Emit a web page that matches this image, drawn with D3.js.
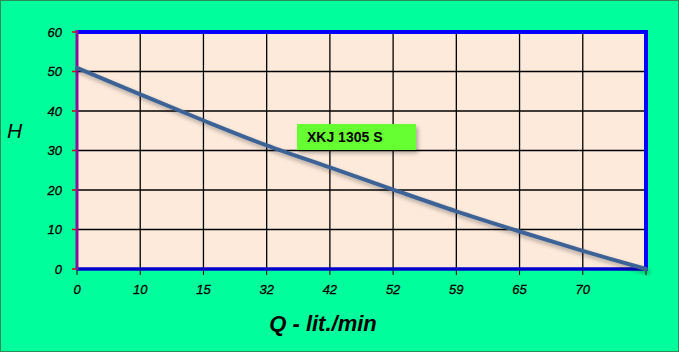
<!DOCTYPE html>
<html><head><meta charset="utf-8">
<script src="https://cdn.jsdelivr.net/npm/d3@7"></script>
<style>html,body{margin:0;padding:0;background:#fff;}svg{display:block;}</style>
</head><body>
<script>
const categories = ["0","10","15","32","42","52","59","65","70",""];
const headValues = [50.9, 44.2, 37.6, 31.3, 25.7, 20.1, 14.6, 9.5, 4.6, 0];
const yTicks = [0,10,20,30,40,50,60];
const seriesName = "XKJ 1305 S";

const W = 679, H = 352;
const svg = d3.select("body").append("svg").attr("width", W).attr("height", H);
const defs = svg.append("defs");
const f = defs.append("filter").attr("id","sh").attr("x","-10%").attr("y","-10%").attr("width","130%").attr("height","150%");
f.append("feDropShadow").attr("dx",2).attr("dy",3).attr("stdDeviation",2).attr("flood-color","#000").attr("flood-opacity",0.3);

svg.append("rect").attr("x",0.5).attr("y",0.5).attr("width",W-1).attr("height",H-1)
  .attr("fill","#00FF9C").attr("stroke","#2E8B57").attr("stroke-width",1);

const L = 77, R = 646, T = 32, B = 269;
const x = d3.scalePoint().domain(d3.range(categories.length)).range([L, R]);
const y = d3.scaleLinear().domain([0,60]).range([B, T]);

svg.append("rect").attr("x",L).attr("y",T).attr("width",R-L).attr("height",B-T).attr("fill","#FDEADB");

// grid
const g = svg.append("g");
g.selectAll(".hg").data(yTicks.filter(d=>d>0 && d<60)).join("line")
  .attr("x1",L).attr("x2",R).attr("y1",d=>y(d)).attr("y2",d=>y(d)).attr("stroke","#000").attr("stroke-width",1.3);
g.selectAll(".vg").data(d3.range(1,categories.length-1)).join("line")
  .attr("x1",d=>x(d)).attr("x2",d=>x(d)).attr("y1",T).attr("y2",B).attr("stroke","#000").attr("stroke-width",1.3);

// x ticks
svg.append("g").selectAll("line").data(d3.range(categories.length)).join("line")
  .attr("x1",d=>x(d)).attr("x2",d=>x(d)).attr("y1",B).attr("y2",B+6).attr("stroke","#000").attr("stroke-width",1);
// y ticks red
svg.append("g").selectAll("line").data(yTicks).join("line")
  .attr("x1",L-5).attr("x2",L).attr("y1",d=>y(d)).attr("y2",d=>y(d)).attr("stroke","#E00000").attr("stroke-width",1.5);

// borders
svg.append("line").attr("x1",L).attr("x2",R+2).attr("y1",T).attr("y2",T).attr("stroke","#0000FF").attr("stroke-width",4);
svg.append("line").attr("x1",R).attr("x2",R).attr("y1",T-2).attr("y2",B).attr("stroke","#0000FF").attr("stroke-width",4);
svg.append("line").attr("x1",L).attr("x2",R+2).attr("y1",B).attr("y2",B).attr("stroke","#0000CC").attr("stroke-width",3.5);
svg.append("line").attr("x1",L).attr("x2",L).attr("y1",T-2).attr("y2",B+1).attr("stroke","#8B109B").attr("stroke-width",3);

// line
const line = d3.line().x((d,i)=>x(i)).y(d=>y(d)).curve(d3.curveCatmullRom.alpha(0.5));
svg.append("path").datum(headValues).attr("d",line).attr("fill","none")
  .attr("stroke","#3D6496").attr("stroke-width",4).attr("stroke-linecap","round").attr("filter","url(#sh)");

// labels
svg.append("g").selectAll("text").data(yTicks).join("text")
  .attr("x",62).attr("y",d=>y(d)+4.5).attr("text-anchor","end")
  .attr("font-family","Liberation Sans, Arial, sans-serif").attr("font-size",13).attr("font-style","italic")
  .attr("stroke","#000").attr("stroke-width",0.3)
  .attr("fill","#000").text(d=>d);
svg.append("g").selectAll("text").data(categories).join("text")
  .attr("x",(d,i)=>x(i)).attr("y",294).attr("text-anchor","middle")
  .attr("font-family","Liberation Sans, Arial, sans-serif").attr("font-size",13).attr("font-style","italic")
  .attr("stroke","#000").attr("stroke-width",0.3)
  .attr("fill","#000").text(d=>d);

svg.append("text").attr("x",7).attr("y",138).attr("font-family","Liberation Sans, Arial, sans-serif")
  .attr("font-size",21).attr("font-style","italic").attr("fill","#000").text("H");
svg.append("text").attr("x",323).attr("y",331).attr("text-anchor","middle").attr("font-family","Liberation Sans, Arial, sans-serif")
  .attr("font-size",22).attr("font-style","italic").attr("font-weight","bold").attr("fill","#000").text("Q - lit./min");

// legend label box
svg.append("rect").attr("x",297).attr("y",124).attr("width",119).attr("height",26)
  .attr("fill","#66FF33").attr("filter","url(#sh)");
svg.append("text").attr("x",307).attr("y",142).attr("font-family","Liberation Sans, Arial, sans-serif")
  .attr("font-size",14).attr("font-weight","bold").attr("fill","#000").text(seriesName);
</script>
</body></html>
